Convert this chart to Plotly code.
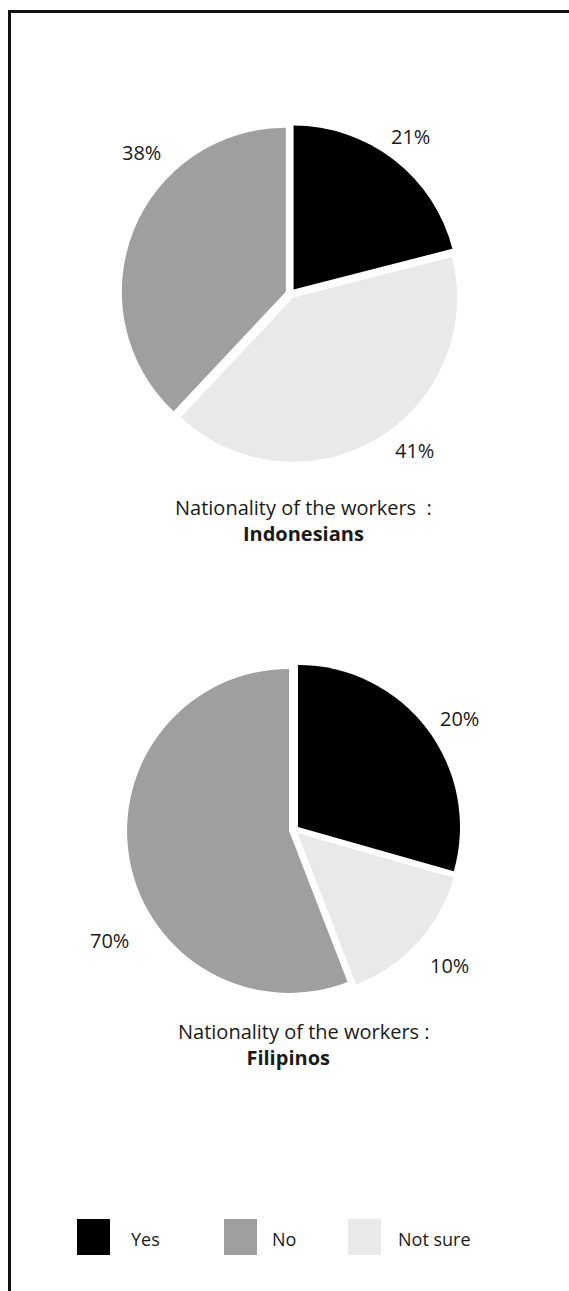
import plotly.graph_objects as go

# ---------------- data ----------------
categories = ["Yes", "Not sure", "No"]          # clockwise from 12 o'clock
legend_order = ["Yes", "No", "Not sure"]
colors = {"Yes": "#000000", "No": "#9f9f9f", "Not sure": "#e9e9e9"}

indo_values = [21, 41, 38]
indo_labels = ["21%", "41%", "38%"]

fili_values = [20, 10, 38]                       # slice sizes as drawn
fili_labels = ["20%", "10%", "70%"]              # printed percentages

titles = [("Nationality of the workers \u00a0:", "Indonesians"),
          ("Nationality of the workers :", "Filipinos")]

# ---------------- layout constants ----------------
W, H = 569, 1291
FONT = "Open Sans, Noto Sans, sans-serif"


def px_x(x):
    return x / W


def px_y(y):
    return 1 - y / H


def domain(cx, cy, r, pull):
    half = r * (1 + pull)
    return dict(x=[px_x(cx - half), px_x(cx + half)],
                y=[px_y(cy + half), px_y(cy - half)])


pies = [
    dict(values=indo_values, labels_txt=indo_labels, cx=290.5, cy=293.5, r=164, pullpx=5,
         label_pos=[(410, 137), (414, 450), (141, 152)],
         title_pos=(303, 520), title_pad=0),
    dict(values=fili_values, labels_txt=fili_labels, cx=294, cy=830, r=162, pullpx=5,
         label_pos=[(459, 718), (449, 965), (109, 940)],
         title_pos=(304, 1044), title_pad=6),
]

fig = go.Figure()
annotations = []

for i, p in enumerate(pies):
    pull = p["pullpx"] / p["r"]
    fig.add_trace(go.Pie(
        labels=categories,
        values=p["values"],
        marker=dict(colors=[colors[c] for c in categories], line=dict(width=0)),
        sort=False,
        direction="clockwise",
        rotation=0,
        pull=[pull] * len(categories),
        textinfo="none",
        hoverinfo="label+value",
        showlegend=False,
        domain=domain(p["cx"], p["cy"], p["r"], pull),
    ))
    for txt, (x, y) in zip(p["labels_txt"], p["label_pos"]):
        annotations.append(dict(x=px_x(x), y=px_y(y), xref="paper", yref="paper",
                                text=txt, showarrow=False, xanchor="center", yanchor="middle",
                                font=dict(family=FONT, size=20, color="#1a1a1a")))
    l1, l2 = titles[i]
    tx, ty = p["title_pos"]
    annotations.append(dict(x=px_x(tx), y=px_y(ty), xref="paper", yref="paper",
                            text=l1 + "<br><b>" + l2 + "\u00a0" * p["title_pad"] + "</b>",
                            showarrow=False, xanchor="center", yanchor="middle", align="center",
                            font=dict(family=FONT, size=20, color="#1a1a1a")))

# ---------------- custom legend ----------------
shapes = []
legend_sq_x = [77, 224, 348]
legend_sq_w, legend_sq_top, legend_sq_bot = 33, 1219, 1255
legend_txt_x = [129, 270, 396]
legend_txt_y = 1239
for name, sx, tx in zip(legend_order, legend_sq_x, legend_txt_x):
    shapes.append(dict(type="rect", xref="paper", yref="paper",
                       x0=px_x(sx), x1=px_x(sx + legend_sq_w),
                       y0=px_y(legend_sq_bot), y1=px_y(legend_sq_top),
                       fillcolor=colors[name], line=dict(width=0)))
    annotations.append(dict(x=px_x(tx), y=px_y(legend_txt_y), xref="paper", yref="paper",
                            text=name, showarrow=False, xanchor="left", yanchor="middle",
                            font=dict(family=FONT, size=18, color="#1a1a1a")))

# ---------------- frame (top + left border) ----------------
shapes.append(dict(type="line", xref="paper", yref="paper",
                   x0=px_x(8), x1=1, y0=px_y(11.5), y1=px_y(11.5),
                   line=dict(color="#111111", width=3)))
shapes.append(dict(type="line", xref="paper", yref="paper",
                   x0=px_x(9.5), x1=px_x(9.5), y0=px_y(10), y1=0,
                   line=dict(color="#111111", width=3)))

fig.update_layout(
    width=W, height=H,
    margin=dict(l=0, r=0, t=0, b=0),
    paper_bgcolor="white", plot_bgcolor="white",
    annotations=annotations,
    shapes=shapes,
    font=dict(family=FONT),
)

fig.write_html("out.html")
